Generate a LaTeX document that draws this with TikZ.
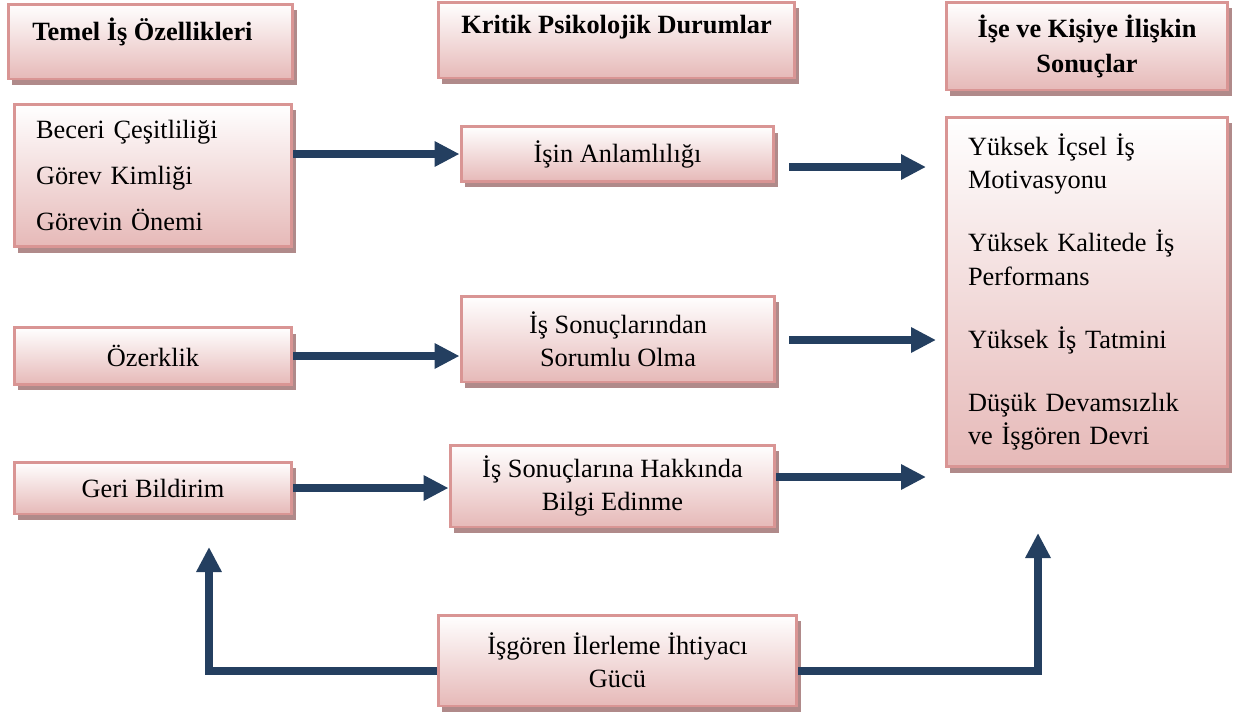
\documentclass[tikz,border=0pt]{standalone}
\usepackage{fontspec}
\setmainfont{Liberation Serif}
\usetikzlibrary{arrows.meta,calc,shadows}
\definecolor{boxedge}{HTML}{D99594}
\definecolor{boxpink}{HTML}{E6B9B8}
\definecolor{boxshade}{HTML}{B08A8A}
\definecolor{flownavy}{HTML}{243F60}
\tikzset{
  pinkbox/.style={draw=boxedge, line width=1.7pt, top color=white, middle color=boxpink!60!white, bottom color=boxpink,
    drop shadow={shadow xshift=0.08cm, shadow yshift=-0.12cm, fill=boxshade, opacity=1},
    font=\fontsize{15}{19}\selectfont, align=center, inner sep=0pt},
  titletext/.style={font=\fontsize{15}{20}\selectfont\bfseries, anchor=base},
  flow/.style={draw=flownavy, line width=4.7pt, -{Triangle[length=0.5cm,width=0.48cm]}},
}
\begin{document}
\begin{tikzpicture}[x=0.02cm,y=-0.02cm]
    \useasboundingbox (0,0) rectangle (1238,717);

    % Column headings
    \node[pinkbox, minimum width=5.7cm, minimum height=1.5cm] (temel) at (150.5,41.5) {};
    \node[pinkbox, minimum width=7.14cm, minimum height=1.52cm] (kritik) at (616.5,40) {};
    \node[pinkbox, minimum width=5.64cm, minimum height=1.76cm, font=\fontsize{15}{20}\selectfont\bfseries] (sonuchead) at (1087,46) {İşe ve Kişiye İlişkin\\Sonuçlar};
    \node[titletext] (temeltxt) at ($(temel.north)+(-8,38)$) {Temel İş Özellikleri};
    \node[titletext] (kritiktxt) at ($(kritik.north)+(0,33)$) {Kritik Psikolojik Durumlar};

    % Job features
    \node[pinkbox, minimum width=5.56cm, minimum height=2.86cm, text width=4.68cm, align=left] (beceri) at (153,175.5)
        {Beceri Çeşitliliği\\[7.4pt]Görev Kimliği\\[7.4pt]Görevin Önemi};
    \node[pinkbox, minimum width=5.56cm, minimum height=1.14cm] (ozerk) at (153,356) {Özerklik};
    \node[pinkbox, minimum width=5.56cm, minimum height=1.04cm] (geri) at (153,488) {Geri Bildirim};

    % Psychological states
    \node[pinkbox, minimum width=6.26cm, minimum height=1.1cm] (anlam) at (617.5,154) {İşin Anlamlılığı};
    \node[pinkbox, minimum width=6.28cm, minimum height=1.72cm] (sorum) at (618,339) {İş Sonuçlarından\\Sorumlu Olma};
    \node[pinkbox, minimum width=6.5cm, minimum height=1.64cm] (bilgi) at (612.5,486) {İş Sonuçlarına Hakkında\\Bilgi Edinme};

    % Outcomes
    \node[pinkbox, minimum width=5.64cm, minimum height=7.0cm, text width=4.76cm, align=left] (sonuc) at (1087,292)
        {Yüksek İçsel İş\\Motivasyonu\\[17pt]Yüksek Kalitede İş\\Performans\\[17pt]Yüksek İş Tatmini\\[17pt]Düşük Devamsızlık\\ve İşgören Devri};

    % Moderator
    \node[pinkbox, minimum width=7.18cm, minimum height=1.82cm] (isgoren) at (617.5,660.5) {İşgören İlerleme İhtiyacı\\Gücü};

    % Free arrow ends
    \coordinate (in1) at (926,167);
    \coordinate (in2) at (936,340);
    \coordinate (in3) at (926,477);
    \coordinate (up1) at (209,547);
    \coordinate (up2) at (1038,533);

    % Arrows
    \draw[flow] (beceri.east |- anlam.west) -- (anlam.west);
    \draw[flow, shorten <=0.28cm] (anlam.east |- in1) -- (in1);
    \draw[flow] (ozerk.east) -- (ozerk.east -| sorum.west);
    \draw[flow, shorten <=0.26cm] (sorum.east |- in2) -- (in2);
    \draw[flow] (geri.east) -- (geri.east -| bilgi.west);
    \draw[flow] (bilgi.east |- in3) -- (in3);
    \draw[flow] ([yshift=-0.21cm]isgoren.west) -| (up1);
    \draw[flow] ([yshift=-0.21cm]isgoren.east) -| (up2);
\end{tikzpicture}
\end{document}
